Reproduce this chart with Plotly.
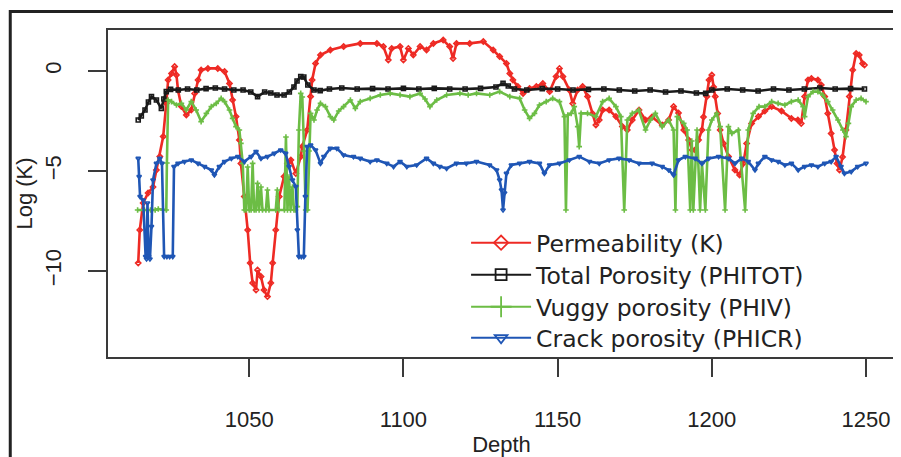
import plotly.graph_objects as go

# ---------------- data ----------------
perm_depth = [1014.0, 1014.5, 1015.6, 1017.2, 1018.8, 1019.9, 1021.0, 1022.1, 1023.1, 1023.7,
              1024.8, 1025.8, 1026.4, 1026.9, 1028.0, 1029.6, 1031.2, 1032.3, 1033.4, 1034.4,
              1036.6, 1039.8, 1042.0, 1043.6, 1044.6, 1045.7, 1046.8, 1047.3, 1048.4, 1049.5,
              1050.3, 1051.1, 1052.2, 1052.7, 1053.8, 1054.8, 1055.9, 1057.0, 1057.6, 1058.6,
              1059.7, 1061.3, 1062.4, 1063.5, 1065.1, 1066.7, 1067.2, 1068.8, 1069.9, 1070.4,
              1071.5, 1073.1, 1076.3, 1080.6, 1086.0, 1091.4, 1093.5, 1095.1, 1096.2, 1098.9,
              1100.0, 1101.6, 1103.2, 1105.4, 1107.5, 1109.7, 1112.9, 1115.0, 1116.1, 1117.2,
              1121.5, 1125.9, 1129.1, 1131.2, 1133.4, 1134.5, 1135.5, 1137.1, 1138.8, 1140.9,
              1143.1, 1145.2, 1147.4, 1149.5, 1150.6, 1151.7, 1153.8, 1154.9, 1156.5, 1158.1,
              1159.7, 1161.3, 1162.4, 1163.5, 1164.6, 1166.7, 1168.9, 1171.0, 1172.6, 1174.2,
              1176.4, 1178.5, 1180.6, 1183.9, 1186.0, 1187.6, 1189.2, 1190.9, 1192.5, 1193.6,
              1194.6, 1195.7, 1196.8, 1197.3, 1198.4, 1199.1, 1200.0, 1200.6, 1201.1, 1201.9,
              1202.7, 1203.8, 1205.4, 1207.5, 1209.0, 1210.2, 1211.3, 1212.9, 1215.1, 1217.2,
              1219.4, 1222.6, 1225.8, 1227.9, 1229.0, 1230.1, 1231.2, 1232.3, 1234.4, 1235.5,
              1236.6, 1237.6, 1238.7, 1239.8, 1240.6, 1241.4, 1242.4, 1243.5, 1244.6, 1245.7,
              1246.8, 1247.8, 1248.9, 1249.5]
perm_value = [-9.6, -7.95, -6.6, -6.1, -5.8, -4.95, -4.28, -3.28, -1.62, -0.45,
              -0.12, 0.22, -0.2, -0.95, -1.78, -2.2, -1.95, -1.12, -0.45, 0.05,
              0.13, 0.13, -0.03, -0.62, -1.45, -2.28, -3.45, -4.62, -6.28, -7.95,
              -9.6, -10.6, -10.95, -9.95, -10.28, -10.95, -11.28, -10.6, -9.6, -7.95,
              -6.28, -5.28, -4.62, -4.45, -5.12, -4.28, -3.78, -2.95, -1.28, -0.45,
              0.38, 0.8, 1.05, 1.22, 1.38, 1.38, 1.22, 0.55, 1.13, 1.22,
              0.55, 1.13, 0.8, 1.22, 1.05, 1.38, 1.55, 1.22, 0.63, 1.38,
              1.38, 1.47, 1.05, 0.72, 0.38, -0.12, -0.45, -0.78, -1.12, -0.87,
              -0.78, -0.62, -1.03, -0.28, 0.13, -0.28, -0.95, -1.62, -0.95, -0.78,
              -1.28, -2.12, -2.7, -2.45, -1.95, -1.95, -2.28, -2.78, -2.95, -2.45,
              -1.95, -2.45, -2.3, -2.7, -2.45, -1.78, -2.1, -2.95, -3.45, -3.95,
              -3.95, -3.45, -2.95, -2.3, -1.28, -0.45, -0.2, -0.8, -1.28, -2.12,
              -2.95, -3.62, -4.28, -4.95, -5.2, -4.62, -3.62, -2.62, -2.28, -2.0,
              -1.78, -2.0, -2.37, -2.45, -2.62, -1.28, -0.45, -0.37, -0.45, -0.7,
              -1.28, -2.12, -3.12, -3.95, -4.62, -4.95, -4.3, -2.95, -1.28, 0.05,
              0.88, 0.8, 0.38, 0.3]

tot_depth = [1014.0, 1015.0, 1016.2, 1017.3, 1018.3, 1019.9, 1021.5, 1022.3, 1023.1, 1024.5,
             1027.0, 1030.0, 1033.0, 1036.0, 1039.0, 1042.0, 1045.0, 1048.0, 1050.5, 1052.7,
             1055.0, 1057.0, 1059.0, 1061.3, 1063.0, 1064.5, 1065.5, 1066.7, 1067.7, 1069.0,
             1071.0, 1073.0, 1076.0, 1080.0, 1085.0, 1090.0, 1095.0, 1100.0, 1105.0, 1110.0,
             1115.0, 1120.0, 1125.0, 1130.0, 1132.3, 1134.0, 1136.0, 1140.0, 1145.0, 1150.0,
             1155.0, 1160.0, 1165.0, 1170.0, 1175.0, 1180.0, 1185.0, 1190.0, 1195.0, 1198.0,
             1200.0, 1205.0, 1210.0, 1215.0, 1220.0, 1225.0, 1230.0, 1235.0, 1240.0, 1245.0,
             1249.5]
tot_value = [-2.45, -2.25, -1.95, -1.55, -1.28, -1.45, -1.87, -1.4, -1.03, -0.92,
             -0.95, -0.9, -0.95, -0.88, -0.85, -0.9, -0.95, -0.95, -1.05, -1.28,
             -1.05, -1.1, -1.2, -1.2, -1.05, -0.8, -0.5, -0.28, -0.3, -0.7,
             -0.95, -0.98, -0.9, -0.85, -0.9, -0.88, -0.9, -0.87, -0.9, -0.87,
             -0.9, -0.9, -0.87, -0.8, -0.62, -0.75, -0.9, -0.95, -0.88, -0.9,
             -0.95, -0.92, -0.9, -0.95, -1.0, -0.95, -1.05, -1.0, -1.1, -1.12,
             -0.95, -0.9, -0.95, -1.0, -0.9, -0.95, -0.9, -0.85, -0.9, -0.88,
             -0.9]

vug_depth = [1013.8, 1016.0, 1018.0, 1019.5, 1020.5, 1022.0, 1023.1, 1023.3, 1023.7, 1024.8,
             1026.4, 1028.0, 1029.6, 1031.2, 1032.8, 1034.4, 1036.1, 1037.7, 1039.3, 1040.9,
             1042.0, 1043.6, 1044.6, 1045.7, 1046.8, 1047.3, 1047.9, 1048.4, 1049.0, 1049.5,
             1050.0, 1050.6, 1051.1, 1051.6, 1052.2, 1052.7, 1053.2, 1053.8, 1054.3, 1055.4,
             1055.9, 1056.4, 1058.6, 1059.1, 1059.6, 1061.4, 1061.9, 1062.4, 1062.9, 1063.4,
             1064.0, 1064.5, 1065.0, 1065.6, 1066.1, 1066.7, 1067.2, 1067.8, 1068.3, 1068.9,
             1069.4, 1069.9, 1071.0, 1072.0, 1073.1, 1074.7, 1076.3, 1077.4, 1079.0, 1080.6,
             1082.8, 1084.4, 1086.0, 1089.2, 1092.5, 1095.7, 1098.9, 1102.1, 1105.4, 1107.0,
             1108.6, 1110.8, 1114.0, 1118.3, 1121.0, 1123.7, 1128.0, 1131.2, 1134.5, 1137.7,
             1139.3, 1140.9, 1142.5, 1144.1, 1146.3, 1148.4, 1150.6, 1152.2, 1152.7, 1153.3,
             1154.4, 1155.4, 1156.5, 1157.0, 1157.6, 1159.7, 1162.4, 1164.6, 1166.7, 1168.9,
             1170.5, 1171.6, 1172.6, 1174.2, 1176.3, 1178.5, 1180.1, 1181.7, 1183.9, 1186.0,
             1187.6, 1188.2, 1188.8, 1190.9, 1192.0, 1193.0, 1193.5, 1194.0, 1195.2, 1196.2,
             1196.8, 1197.9, 1198.9, 1200.0, 1201.6, 1202.7, 1204.3, 1205.4, 1206.5, 1208.6,
             1210.8, 1211.8, 1213.4, 1215.3, 1217.2, 1219.4, 1221.5, 1223.7, 1225.8, 1228.0,
             1229.6, 1230.1, 1231.2, 1232.8, 1234.4, 1236.0, 1237.6, 1239.2, 1240.9, 1242.5,
             1243.5, 1244.3, 1245.2, 1246.8, 1248.4, 1250.0]
vug_value = [-6.95, -6.95, -6.95, -6.95, -6.9, -6.95, -6.95, -4.6, -1.45, -1.53,
             -1.7, -1.62, -1.95, -1.53, -1.95, -2.53, -2.12, -1.78, -1.62, -1.37,
             -1.53, -1.95, -2.37, -2.78, -2.95, -3.62, -4.62, -6.95, -6.95, -4.8,
             -6.95, -6.95, -4.62, -6.95, -6.95, -5.62, -6.95, -5.8, -6.95, -6.95,
             -5.95, -6.95, -6.95, -5.95, -6.95, -6.95, -3.3, -6.95, -5.3, -6.95,
             -5.8, -6.95, -6.95, -6.78, -2.95, -1.12, -1.3, -4.0, -6.95, -6.95,
             -4.0, -2.12, -2.45, -1.95, -1.62, -1.78, -2.28, -2.45, -2.0, -1.78,
             -1.45, -1.87, -1.53, -1.37, -1.2, -1.12, -1.2, -1.28, -1.12, -1.4,
             -1.78, -1.45, -1.2, -1.12, -1.2, -1.12, -1.2, -1.03, -1.28, -1.37,
             -1.95, -2.37, -2.12, -1.7, -1.53, -1.37, -1.53, -2.28, -6.95, -2.2,
             -2.12, -1.78, -2.78, -3.78, -2.12, -2.12, -2.28, -1.53, -1.37, -1.78,
             -2.28, -6.95, -2.45, -2.12, -1.95, -2.95, -2.45, -2.12, -2.78, -2.45,
             -2.95, -6.95, -2.28, -2.62, -2.95, -6.95, -3.5, -6.95, -2.95, -6.95,
             -4.62, -6.95, -2.95, -2.45, -2.12, -2.78, -6.95, -2.78, -3.12, -2.95,
             -6.95, -2.95, -2.12, -1.78, -1.78, -1.53, -1.62, -1.7, -1.53, -1.45,
             -1.78, -2.28, -1.28, -1.03, -1.03, -1.2, -1.53, -1.95, -2.45, -2.95,
             -3.28, -2.62, -1.78, -1.45, -1.37, -1.53]

crk_depth = [1014.0, 1014.3, 1014.6, 1015.6, 1016.4, 1016.7, 1017.0, 1017.4, 1017.8, 1018.3,
             1018.8, 1019.9, 1021.0, 1021.7, 1022.4, 1023.3, 1024.2, 1025.2, 1025.6, 1026.9,
             1029.0, 1031.2, 1033.4, 1035.5, 1037.7, 1038.7, 1040.3, 1042.0, 1044.2, 1046.3,
             1048.4, 1050.6, 1052.2, 1053.8, 1055.9, 1058.1, 1060.2, 1061.8, 1062.9, 1064.0,
             1065.1, 1065.6, 1066.1, 1066.9, 1067.7, 1068.2, 1068.8, 1069.9, 1071.5, 1073.1,
             1074.2, 1076.3, 1078.4, 1080.6, 1083.8, 1086.0, 1089.2, 1091.4, 1094.6, 1096.8,
             1098.9, 1101.1, 1104.3, 1107.5, 1109.7, 1111.8, 1114.0, 1117.2, 1120.4, 1123.7,
             1127.9, 1130.2, 1131.2, 1131.8, 1132.3, 1132.8, 1133.4, 1135.0, 1137.7, 1140.9,
             1144.1, 1145.7, 1147.4, 1150.6, 1153.8, 1157.0, 1160.3, 1163.5, 1166.7, 1169.9,
             1173.2, 1176.4, 1180.6, 1183.9, 1186.0, 1187.6, 1189.2, 1191.4, 1194.6, 1196.8,
             1199.0, 1202.2, 1205.4, 1207.5, 1209.7, 1211.8, 1214.0, 1215.1, 1217.2, 1219.4,
             1221.5, 1223.7, 1225.8, 1228.0, 1230.1, 1232.3, 1234.4, 1236.6, 1238.7, 1240.3,
             1241.9, 1243.0, 1245.2, 1247.3, 1250.0]
crk_value = [-4.37, -5.28, -6.28, -6.45, -9.28, -9.4, -6.6, -9.28, -9.4, -7.78,
             -5.45, -4.62, -4.37, -4.62, -9.28, -9.28, -9.28, -9.28, -4.78, -4.62,
             -4.53, -4.45, -4.62, -4.78, -4.95, -5.2, -4.78, -4.53, -4.37, -4.28,
             -4.53, -4.28, -4.03, -4.37, -4.28, -4.12, -3.95, -4.12, -4.78, -5.45,
             -5.78, -7.95, -9.28, -9.28, -9.28, -6.28, -3.78, -3.7, -3.95, -4.62,
             -4.28, -3.87, -3.87, -4.2, -4.28, -4.37, -4.53, -4.45, -4.62, -4.78,
             -4.53, -4.78, -4.7, -4.37, -4.62, -4.78, -4.87, -4.62, -4.62, -4.53,
             -4.7, -4.95, -5.45, -5.95, -6.95, -6.1, -5.12, -4.7, -4.62, -4.53,
             -4.62, -5.12, -4.7, -4.62, -4.45, -4.28, -4.53, -4.62, -4.45, -4.37,
             -4.45, -4.62, -4.62, -4.78, -4.95, -5.2, -4.45, -4.28, -4.37, -4.62,
             -4.37, -4.28, -4.37, -4.62, -4.37, -4.53, -4.95, -4.62, -4.28, -4.45,
             -4.53, -4.7, -4.62, -4.95, -4.78, -4.7, -4.78, -4.62, -4.53, -4.28,
             -4.78, -5.12, -5.03, -4.78, -4.62]

names = ["Permeability (K)", "Total Porosity (PHITOT)", "Vuggy porosity (PHIV)", "Crack porosity (PHICR)"]
x_ticks = [1050, 1100, 1150, 1200, 1250]
y_ticks = [-10, -5, 0]

# ---------------- styling ----------------
RED, BLACK, GREEN, BLUE = "#ee2a24", "#1a1a1a", "#6cbd45", "#1f56b5"
series = [
    (perm_depth, perm_value, RED, "diamond-open"),
    (tot_depth, tot_value, BLACK, "square-open"),
    (vug_depth, vug_value, GREEN, "cross-thin-open"),
    (crk_depth, crk_value, BLUE, "triangle-down-open"),
]
FONT = "Liberation Sans, Arial, sans-serif"
LEG_IDS = ["legend", "legend2", "legend3", "legend4"]
LEG_Y = [0.349, 0.251, 0.153, 0.058]   # row centres (paper coords)

fig = go.Figure()
for (xs, ys, col, sym), nm in zip(series, names):
    fig.add_trace(go.Scatter(
        x=xs, y=ys, mode="lines+markers", name=nm, showlegend=False,
        line=dict(color=col, width=2.6),
        marker=dict(symbol=sym, size=4, color=col, line=dict(color=col, width=1.6)),
    ))
# legend entries with larger symbols, one legend box per row
for (xs, ys, col, sym), nm, lid in zip(series, names, LEG_IDS):
    fig.add_trace(go.Scatter(
        x=[None], y=[None], mode="lines+markers", name=nm, showlegend=True, legend=lid,
        line=dict(color=col, width=2),
        marker=dict(symbol=sym, size=11 if sym != "cross-thin-open" else 15,
                    color=col, line=dict(color=col, width=1.8)),
    ))

axis_common = dict(
    showline=True, mirror=True, linecolor="#3a3a3a", linewidth=2,
    ticks="outside", ticklen=18, tickwidth=2, tickcolor="#3a3a3a",
    showgrid=False, zeroline=False,
    tickfont=dict(family=FONT, size=22, color="#222"),
)

legend_style = dict(x=0.455, xanchor="left", yanchor="middle",
                    bgcolor="rgba(0,0,0,0)", borderwidth=0,
                    font=dict(family="DejaVu Sans, sans-serif", size=23.5, color="#222"),
                    itemwidth=60)
legends = {lid: dict(y=ly, **legend_style) for lid, ly in zip(LEG_IDS, LEG_Y)}

# page has an 8px body margin, so the figure is 8px smaller than the window
fig.update_layout(
    width=893, height=449,
    margin=dict(l=100, r=4, t=22, b=100),
    paper_bgcolor="white", plot_bgcolor="white",
    xaxis=dict(range=[1004.2, 1259.4], tickvals=x_ticks, ticklabelstandoff=24,
               title=dict(text="Depth", font=dict(family=FONT, size=22, color="#222"), standoff=5),
               **axis_common),
    yaxis=dict(range=[-14.3, 2.05], tickvals=y_ticks, tickangle=-90, ticklabelstandoff=18,
               title=dict(text="Log (K)", font=dict(family=FONT, size=22, color="#222"), standoff=3),
               **axis_common),
    showlegend=True,
    shapes=[dict(type="rect", xref="paper", yref="paper",
                 x0=-0.1242, x1=1.03, y0=-0.36, y1=1.0566,
                 line=dict(color="#222", width=3), fillcolor="rgba(0,0,0,0)")],
    **legends,
)

fig.write_html("out.html")
